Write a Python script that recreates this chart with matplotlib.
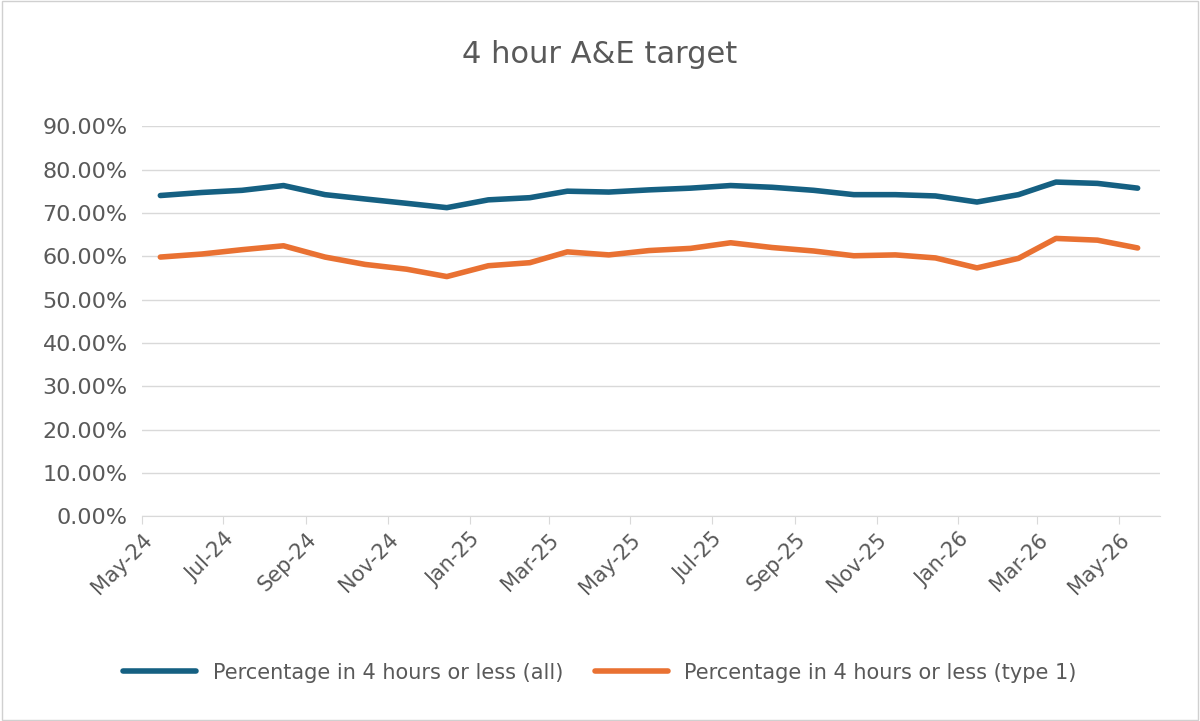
import pandas as pd
import matplotlib
matplotlib.use("Agg")
import matplotlib.pyplot as plt
import matplotlib.dates as mdates
from matplotlib.ticker import FuncFormatter, MultipleLocator

dates = pd.date_range("2024-05-01", periods=25, freq="MS") + pd.Timedelta(days=14)
all_pct = [74.0, 74.7, 75.2, 76.3, 74.2, 73.2, 72.2, 71.2, 73.0, 73.5, 75.0, 74.8, 75.3,
           75.7, 76.3, 75.9, 75.2, 74.2, 74.2, 73.9, 72.5, 74.2, 77.1, 76.8, 75.7]
type1_pct = [59.8, 60.5, 61.5, 62.4, 59.8, 58.1, 57.0, 55.3, 57.8, 58.5, 61.0, 60.3, 61.3,
             61.8, 63.1, 62.0, 61.2, 60.1, 60.3, 59.6, 57.3, 59.5, 64.1, 63.7, 61.9]

fig = plt.figure(figsize=(12, 7.21), dpi=100)
fig.patches.append(plt.Rectangle((0.002, 0.002), 0.996, 0.996, transform=fig.transFigure,
                                 fill=False, edgecolor="#d0d0d0", linewidth=1))
ax = fig.add_axes([0.118, 0.284, 0.849, 0.541])

ax.plot(dates, all_pct, color="#156082", linewidth=4, label="Percentage in 4 hours or less (all)",
        solid_capstyle="round")
ax.plot(dates, type1_pct, color="#E97132", linewidth=4, label="Percentage in 4 hours or less (type 1)",
        solid_capstyle="round")

ax.set_ylim(0, 90)
ax.yaxis.set_major_locator(MultipleLocator(10))
ax.yaxis.set_major_formatter(FuncFormatter(lambda v, p: f"{v:.2f}%"))
ax.set_xlim(pd.Timestamp("2024-05-01"), pd.Timestamp("2026-06-01"))
ax.xaxis.set_major_locator(mdates.MonthLocator(bymonth=[1, 3, 5, 7, 9, 11]))
ax.xaxis.set_major_formatter(mdates.DateFormatter("%b-%y"))
plt.setp(ax.get_xticklabels(), rotation=45, ha="right", rotation_mode="anchor")

ax.grid(axis="y", color="#d9d9d9", linewidth=1)
ax.set_axisbelow(True)
for s in ["top", "right", "left"]:
    ax.spines[s].set_visible(False)
ax.spines["bottom"].set_color("#d9d9d9")
ax.tick_params(axis="y", length=0, labelsize=16, labelcolor="#595959", pad=10)
ax.tick_params(axis="x", length=6, color="#d9d9d9", labelsize=15, labelcolor="#595959")

fig.suptitle("4 hour A&E target", y=0.945, fontsize=22, color="#595959")
fig.legend(loc="center", bbox_to_anchor=(0.5, 0.067), ncol=2, frameon=False, fontsize=15,
           labelcolor="#595959", handlelength=3.5, columnspacing=1.5)

fig.savefig("out.png", dpi=100)
